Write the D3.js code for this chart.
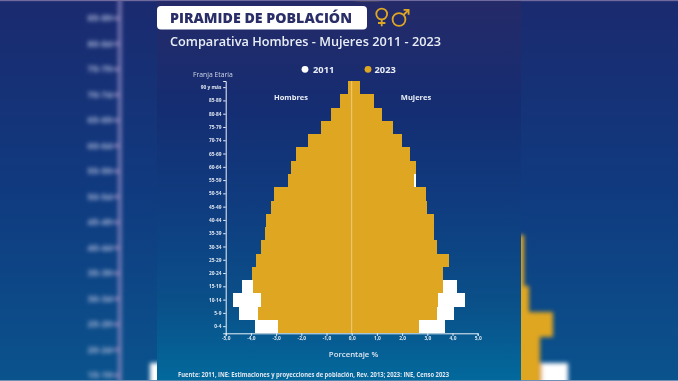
<!DOCTYPE html>
<html>
<head>
<meta charset="utf-8">
<script src="https://cdn.jsdelivr.net/npm/d3@7"></script>
<style>
  html, body { margin: 0; padding: 0; background: #0b3f80; }
  svg { display: block; }
  text { font-family: "Open Sans", "Noto Sans", sans-serif; }
</style>
</head>
<body>
<div id="chart"></div>
<script>
// Age bands, youngest first
const ages = ["0-4", "5-9", "10-14", "15-19", "20-24", "25-29", "30-34", "35-39", "40-44", "45-49",
              "50-54", "55-59", "60-64", "65-69", "70-74", "75-79", "80-84", "85-89", "90 y más"];

// Percentages (2011 is estimated where 2023 hides it)
const men2011 = [3.85, 4.46, 4.72, 4.37, 3.90, 3.60, 3.40, 3.20, 3.00, 2.85, 2.70, 2.40, 2.10, 1.80, 1.40, 1.00, 0.65, 0.35, 0.15];
const women2011 = [3.72, 4.07, 4.50, 4.18, 3.55, 3.45, 3.30, 3.20, 2.95, 2.85, 2.70, 2.54, 2.30, 2.05, 1.65, 1.30, 0.95, 0.60, 0.30];
const men2023 = [2.94, 3.70, 3.60, 3.93, 3.95, 3.78, 3.61, 3.45, 3.39, 3.19, 3.10, 2.53, 2.42, 2.22, 1.75, 1.23, 0.83, 0.48, 0.16];
const women2023 = [2.67, 3.40, 3.43, 3.64, 3.61, 3.88, 3.39, 3.28, 3.28, 2.99, 2.96, 2.47, 2.57, 2.31, 2.00, 1.63, 1.22, 0.90, 0.34];
const xTicks = [-5, -4, -3, -2, -1, 0, 1, 2, 3, 4, 5];

const gold = "#dfa624";
const width = 678, height = 381;

const svg = d3.select("#chart").append("svg")
  .attr("width", width)
  .attr("height", height);

const defs = svg.append("defs");

// Background gradients for the blurred sides and the card
function addGradient(id, stops) {
  const g = defs.append("linearGradient").attr("id", id)
    .attr("x1", 0).attr("y1", 0).attr("x2", 0).attr("y2", 1);
  stops.forEach(s => g.append("stop").attr("offset", s[0]).attr("stop-color", s[1]));
}
addGradient("sideBg", [[0, "#1b2a6f"], [0.5, "#103a7f"], [1, "#0a538d"]]);
addGradient("cardBg", [[0, "#252a68"], [0.28, "#152d72"], [0.55, "#0f3d80"], [0.8, "#0a5089"], [1, "#02699c"]]);

defs.append("filter").attr("id", "bgBlur")
  .attr("x", "-10%").attr("y", "-10%").attr("width", "120%").attr("height", "120%")
  .append("feGaussianBlur").attr("stdDeviation", 2);
defs.append("filter").attr("id", "soft")
  .attr("x", "-5%").attr("y", "-5%").attr("width", "110%").attr("height", "110%")
  .append("feGaussianBlur").attr("stdDeviation", 0.35);

// The 2011 bars behind, the 2023 bars in front, and the pale middle line
function drawBars(g, x, y) {
  function bars(values, side, color) {
    g.append("g").selectAll("rect")
      .data(values)
      .enter()
      .append("rect")
      .attr("x", d => side < 0 ? x(-d) : x(0))
      .attr("y", (d, i) => y(ages[i]))
      .attr("width", d => side < 0 ? x(0) - x(-d) : x(d) - x(0))
      .attr("height", y.bandwidth())
      .attr("fill", color)
      .attr("shape-rendering", "crispEdges");
  }
  bars(men2011, -1, "#ffffff");
  bars(women2011, 1, "#ffffff");
  bars(men2023, -1, gold);
  bars(women2023, 1, gold);

  g.append("line")
    .attr("x1", x(0)).attr("x2", x(0))
    .attr("y1", y.range()[1]).attr("y2", y.range()[0])
    .attr("stroke", "#f3dfa8")
    .attr("stroke-width", 0.7);
}

// Blurred enlarged copy behind the card
svg.append("rect").attr("width", width).attr("height", height).attr("fill", "url(#sideBg)");
const bgLayer = svg.append("g").attr("filter", "url(#bgBlur)");
const bgX = d3.scaleLinear().domain([-5, 5]).range([119.3, 608]);
const bgY = d3.scaleBand().domain(ages).range([464.5, -20]);
drawBars(bgLayer, bgX, bgY);
const bgAxis = bgLayer.append("g")
  .attr("transform", `translate(${bgX(-5)},0)`)
  .call(d3.axisLeft(bgY).tickSize(6).tickPadding(1));
bgAxis.selectAll("path, line").attr("stroke", "#8f88c0").attr("stroke-width", 3);
bgAxis.selectAll("text")
  .attr("fill", "#a9b6d8")
  .attr("font-size", 9.5)
  .attr("font-weight", 700);
// Only the rows that fit in the picture
bgAxis.selectAll(".tick").filter(d => bgY(d) + bgY.bandwidth() / 2 > 378 || bgY(d) < 0).select("text").remove();

svg.append("rect").attr("x", 0).attr("y", 0).attr("width", width).attr("height", 1.2).attr("fill", "#6f6a9e");
svg.append("rect").attr("x", 0).attr("y", 380).attr("width", width).attr("height", 1).attr("fill", "#6f8fb5");

// Card
svg.append("rect")
  .attr("x", 157).attr("y", 1.2)
  .attr("width", 364).attr("height", 379)
  .attr("fill", "url(#cardBg)");

const card = svg.append("g").attr("filter", "url(#soft)");

// Header
card.append("rect")
  .attr("x", 157).attr("y", 6)
  .attr("width", 210).attr("height", 23.5)
  .attr("rx", 4)
  .attr("fill", "#ffffff");
card.append("text")
  .attr("x", 170).attr("y", 22.8)
  .attr("font-size", 14.6)
  .attr("font-weight", 800)
  .attr("fill", "#2b2f68")
  .attr("textLength", 182)
  .attr("lengthAdjust", "spacingAndGlyphs")
  .text("PIRAMIDE DE POBLACIÓN");
card.append("text")
  .attr("x", 170).attr("y", 46)
  .attr("font-size", 12.6)
  .attr("font-weight", 600)
  .attr("fill", "#e9eef6")
  .attr("textLength", 271)
  .attr("lengthAdjust", "spacingAndGlyphs")
  .text("Comparativa Hombres - Mujeres 2011 - 2023");

// Female and male symbols
const icons = card.append("g")
  .attr("fill", "none")
  .attr("stroke", gold)
  .attr("stroke-width", 1.8);
icons.append("circle").attr("cx", 381.7).attr("cy", 14).attr("r", 5.4);
icons.append("path").attr("d", "M381.7 19.4V26.3M378 23H385.4");
icons.append("circle").attr("cx", 399).attr("cy", 19.5).attr("r", 6.4);
icons.append("path").attr("d", "M403.5 15L408.6 9.8M403.6 9.8H408.6V14.8");

// Legend
const legendYears = ["2011", "2023"];
const legendColors = ["#ffffff", gold];
const legendX = [305, 368];
legendYears.forEach((year, i) => {
  card.append("circle")
    .attr("cx", legendX[i]).attr("cy", 69.3).attr("r", 3.4)
    .attr("fill", legendColors[i]);
  card.append("text")
    .attr("x", legendX[i] + (i === 0 ? 8 : 6.5)).attr("y", 72.8)
    .attr("font-size", 9.3)
    .attr("font-weight", 700)
    .attr("fill", "#e9eef6")
    .text(year);
});

card.append("text")
  .attr("x", 193).attr("y", 76.5)
  .attr("font-size", 6.8)
  .attr("font-weight", 500)
  .attr("fill", "#cdd6e6")
  .text("Franja Etaria");

// Main pyramid
const x = d3.scaleLinear().domain([-5, 5]).range([225.7, 477.7]);
const y = d3.scaleBand().domain(ages).range([333.3, 81]);
drawBars(card, x, y);

const yAxis = card.append("g")
  .attr("transform", `translate(${x(-5)},0)`)
  .call(d3.axisLeft(y).tickSize(2.5).tickPadding(1.8));
const xAxis = card.append("g")
  .attr("transform", `translate(0,${y.range()[0]})`)
  .call(d3.axisBottom(x).tickValues(xTicks).tickSize(2.5).tickPadding(1.2)
    .tickFormat(d => d3.format(".1f")(d).replace(".", ",").replace("−", "-")));
[yAxis, xAxis].forEach(a => {
  a.selectAll("path, line").attr("stroke", "#eef2f8");
  a.selectAll("text")
    .attr("fill", "#dfe6f0")
    .attr("font-size", 4.8)
    .attr("font-weight", 700);
});

[["Hombres", 291], ["Mujeres", 416]].forEach(d => {
  card.append("text")
    .attr("x", d[1]).attr("y", 100)
    .attr("text-anchor", "middle")
    .attr("font-size", 7.5)
    .attr("font-weight", 700)
    .attr("fill", "#e9eef6")
    .text(d[0]);
});

card.append("text")
  .attr("x", 353.5).attr("y", 357)
  .attr("text-anchor", "middle")
  .attr("font-size", 7.8)
  .attr("font-weight", 600)
  .attr("fill", "#dfe6f0")
  .text("Porcentaje %");

card.append("text")
  .attr("x", 178).attr("y", 377)
  .attr("font-size", 6.2)
  .attr("font-weight", 700)
  .attr("fill", "#dfe6f0")
  .attr("textLength", 271)
  .attr("lengthAdjust", "spacingAndGlyphs")
  .text("Fuente: 2011, INE: Estimaciones y proyecciones de población, Rev. 2013; 2023: INE, Censo 2023");
</script>
</body>
</html>
